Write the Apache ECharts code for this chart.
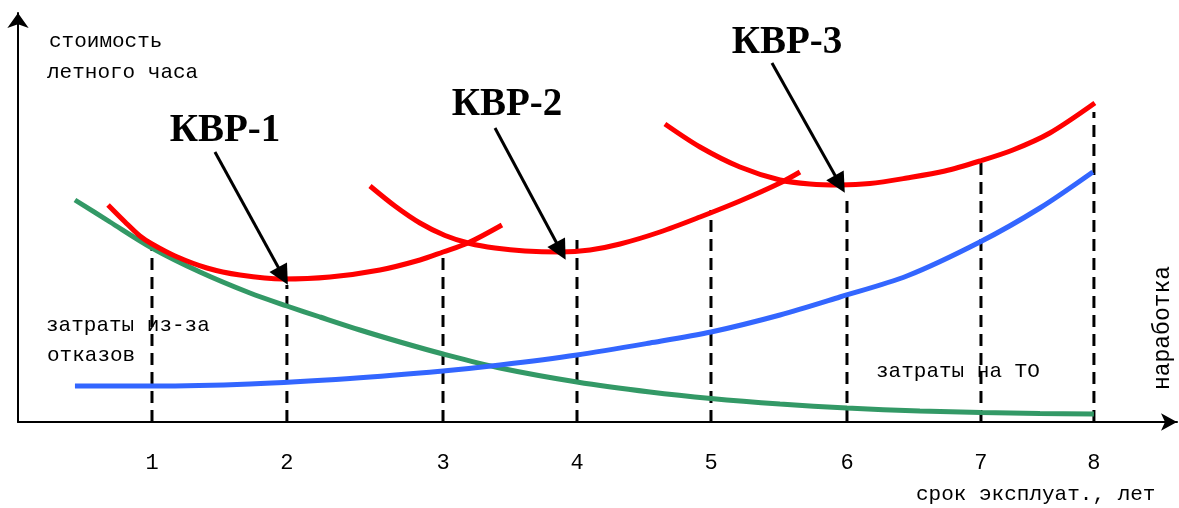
<!DOCTYPE html>
<html>
<head>
<meta charset="utf-8">
<script src="https://cdn.jsdelivr.net/npm/echarts@6/dist/echarts.min.js"></script>
<style>
html,body{margin:0;padding:0;background:#fff;}
#chart{width:1179px;height:508px;}
</style>
</head>
<body>
<div id="chart"></div>
<script>
// x in "axis units" as drawn (year ticks are unevenly spaced in the original), y in relative cost units
const tickPos    = [1.0, 2.007, 3.172, 4.172, 5.172, 6.187, 7.187, 8.03];
const tickLabels = ['1','2','3','4','5','6','7','8'];
const dropTops   = [43, 34.25, 43, 45.5, 53, 56.75, 65.5, 77.5];

const failureCost = [[0.425,55.5],[0.687,50],[1.0,43.5],[1.358,37.5],[1.731,32.25],[2.007,29],[2.254,26.25],[2.552,23],[2.851,20],[3.172,17],[3.597,13.5],[4.172,10],[4.716,7.5],[5.172,5.875],[5.687,4.5],[6.187,3.5],[6.731,2.75],[7.187,2.375],[7.627,2.125],[8.03,2]];
const maintCost = [[0.425,9],[1.0,9],[1.731,9.5],[2.478,10.875],[3.172,12.75],[3.597,14.25],[4.172,16.75],[4.716,19.75],[5.172,22.5],[5.687,26.75],[6.134,31.25],[6.634,36.5],[7.179,45],[7.627,53.5],[8.022,62.5]];
const kvr1 = [[0.672,54.25],[0.799,50],[0.910,46.5],[1.0,44.5],[1.172,41.5],[1.410,38.5],[1.657,36.75],[1.978,35.75],[2.328,36.25],[2.701,38],[3.0,40.5],[3.172,42.5],[3.358,44.75],[3.612,49.25]];
const kvr2 = [[2.627,59],[2.813,54],[3.0,49.75],[3.187,46.625],[3.373,44.625],[3.560,43.5],[3.784,42.75],[4.045,42.5],[4.269,43],[4.493,44.5],[4.791,47.5],[5.090,51.25],[5.388,55.25],[5.687,59.75],[5.836,62.5]];
const kvr3 = [[4.828,74.5],[5.090,68.75],[5.388,63.75],[5.687,60.5],[5.910,59.5],[6.134,59.25],[6.358,59.6],[6.634,61],[6.918,62.75],[7.179,65.25],[7.425,68],[7.701,72.25],[8.037,79.75]];
const arrows = [
  [[1.470,67.5],[1.978,36.5]],
  [[3.560,73.5],[4.052,42.75]],
  [[5.627,89.75],[6.134,59.5]]
];

const MONO = '"Liberation Mono", monospace';
const SERIF = '"Liberation Serif", serif';

const chart = echarts.init(document.getElementById('chart'));

const curve = (name, data, color) => ({
  name, type: 'line', data, smooth: 0.3, symbol: 'none', silent: true,
  lineStyle: {color, width: 5}, z: 3
});

const dropSeries = tickPos.map((x, i) => ({
  type: 'line', data: [[x, 0], [x, dropTops[i]]], symbol: 'none', silent: true,
  lineStyle: {color: '#000', width: 3, type: [12, 7]}, z: 2
}));

const txt = (text, left, top) => ({type: 'text', left, top, style: {text, font: '21px ' + MONO, fill: '#000'}});

chart.setOption({
  animation: false,
  backgroundColor: '#fff',
  grid: {left: 18, right: 2, top: 13, bottom: 86, containLabel: false},
  xAxis: {
    type: 'value', min: 0, max: 8.65,
    splitLine: {show: false},
    axisTick: {show: false},
    axisLine: {lineStyle: {color: '#000', width: 2}, symbol: ['none', 'arrow'], symbolSize: [13, 16]},
    axisLabel: {
      customValues: tickPos, margin: 30, color: '#000', fontFamily: MONO, fontSize: 22,
      formatter: (v) => {
        let best = 0;
        tickPos.forEach((p, i) => { if (Math.abs(p - v) < Math.abs(tickPos[best] - v)) best = i; });
        return tickLabels[best];
      }
    }
  },
  yAxis: {
    type: 'value', min: 0, max: 102.25,
    splitLine: {show: false},
    axisTick: {show: false},
    axisLabel: {show: false},
    axisLine: {onZero: false, lineStyle: {color: '#000', width: 2}, symbol: ['none', 'arrow'], symbolSize: [16, 15]}
  },
  series: [
    ...dropSeries,
    curve('затраты из-за отказов', failureCost, '#339966'),
    curve('затраты на ТО', maintCost, '#3366ff'),
    curve('КВР-1', kvr1, '#ff0000'),
    curve('КВР-2', kvr2, '#ff0000'),
    curve('КВР-3', kvr3, '#ff0000'),
    {
      type: 'lines', coordinateSystem: 'cartesian2d', silent: true, z: 4,
      symbol: ['none', 'triangle'], symbolSize: [13, 20],
      lineStyle: {color: '#000', width: 3, opacity: 1},
      data: arrows.map(c => ({coords: c}))
    }
  ],
  graphic: [
    txt('стоимость', 49, 31),
    txt('летного часа', 47, 62),
    txt('затраты из-за', 46, 315),
    txt('отказов', 47, 345),
    txt('затраты на ТО', 876, 361),
    txt('срок эксплуат., лет', 916, 484),
    {type: 'text', x: 1163, y: 328, rotation: Math.PI / 2,
      style: {text: 'наработка', font: '23px ' + MONO, fill: '#000', align: 'center', verticalAlign: 'middle'}},
    {type: 'text', x: 225, y: 131, style: {text: 'КВР-1', font: 'bold 39px ' + SERIF, fill: '#000', align: 'center', verticalAlign: 'middle'}},
    {type: 'text', x: 507, y: 105, style: {text: 'КВР-2', font: 'bold 39px ' + SERIF, fill: '#000', align: 'center', verticalAlign: 'middle'}},
    {type: 'text', x: 787, y: 43, style: {text: 'КВР-3', font: 'bold 39px ' + SERIF, fill: '#000', align: 'center', verticalAlign: 'middle'}}
  ]
});
</script>
</body>
</html>
